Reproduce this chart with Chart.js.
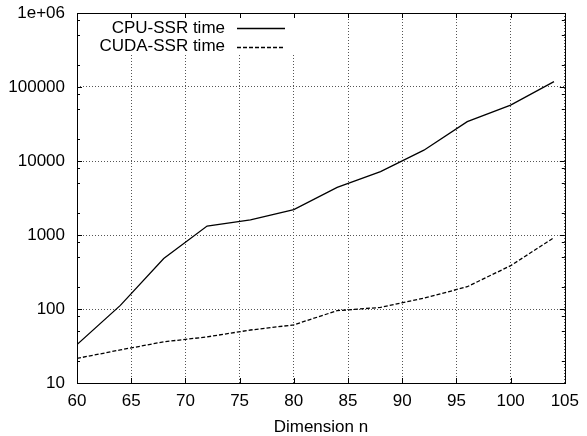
<!DOCTYPE html>
<html>
<head>
<meta charset="utf-8">
<script src="https://cdn.jsdelivr.net/npm/chart.js@4/dist/chart.umd.min.js"></script>
<style>
  body { margin: 0; background: #fff; }
  canvas { display: block; }
</style>
</head>
<body>
<canvas id="timeChart" width="587" height="436"></canvas>
<script>
// Data (run time vs dimension)
const dimensions = [60, 64, 68, 72, 76, 80, 84, 88, 92, 96, 100, 104];
const cpuTimes = [33, 112, 480, 1320, 1600, 2200, 4400, 7200, 14000, 34000, 57000, 118000];
const cudaTimes = [21.5, 28, 36, 42, 52, 61, 95, 105, 140, 200, 385, 920];
const seriesNames = ["CPU-SSR time", "CUDA-SSR time"];

// Ticks
const xTicks = [60, 65, 70, 75, 80, 85, 90, 95, 100, 105];
const yTicks = [10, 100, 1000, 10000, 100000, 1000000];
const yTickLabels = ["10", "100", "1000", "10000", "100000", "1e+06"];
const yMinorSteps = [2, 5, 8];

const font = { family: "'Liberation Sans', Arial, sans-serif", size: 17 };

function toPoints(values) {
  return dimensions.map((d, i) => ({ x: d, y: values[i] }));
}

// gnuplot look: legend inside the plot, inward ticks on all sides, solid frame
const gnuplotFrame = {
  id: "gnuplotFrame",
  afterDatasetsDraw(chart) {
    const { ctx, chartArea: a, scales: { x, y } } = chart;
    ctx.save();

    // legend (white box hides the grid behind it)
    ctx.fillStyle = "#fff";
    ctx.fillRect(a.left + 10, a.top + 1, 210, 39);
    ctx.font = "17px 'Liberation Sans', Arial, sans-serif";
    ctx.textAlign = "right";
    ctx.textBaseline = "middle";
    chart.data.datasets.forEach((ds, i) => {
      const ty = a.top + 15 + i * 18.5;
      ctx.fillStyle = "#000";
      ctx.fillText(ds.label, a.left + 148, ty);
      ctx.strokeStyle = ds.borderColor;
      ctx.lineWidth = ds.borderWidth;
      ctx.setLineDash(ds.borderDash || []);
      ctx.beginPath();
      ctx.moveTo(a.left + 160, Math.round(ty) + 0.5);
      ctx.lineTo(a.left + 208, Math.round(ty) + 0.5);
      ctx.stroke();
    });
    ctx.setLineDash([]);

    // tick marks
    ctx.strokeStyle = "#000";
    ctx.lineWidth = 1;
    ctx.beginPath();
    x.ticks.forEach(t => {
      const px = Math.round(x.getPixelForValue(t.value)) + 0.5;
      ctx.moveTo(px, a.bottom); ctx.lineTo(px, a.bottom - 5);
      ctx.moveTo(px, a.top); ctx.lineTo(px, a.top + 5);
    });
    y.ticks.forEach(t => {
      const py = Math.round(y.getPixelForValue(t.value)) + 0.5;
      const len = t.major ? 5 : 3;
      ctx.moveTo(a.left, py); ctx.lineTo(a.left + len, py);
      ctx.moveTo(a.right, py); ctx.lineTo(a.right - len, py);
    });
    ctx.stroke();

    // frame
    ctx.strokeRect(Math.round(a.left) + 0.5, Math.round(a.top) + 0.5,
      Math.round(a.right - a.left), Math.round(a.bottom - a.top));
    ctx.restore();
  }
};

new Chart(document.getElementById("timeChart"), {
  type: "line",
  data: {
    datasets: [
      {
        label: seriesNames[0],
        data: toPoints(cpuTimes),
        borderColor: "#000",
        borderWidth: 1.3,
        pointRadius: 0,
        tension: 0
      },
      {
        label: seriesNames[1],
        data: toPoints(cudaTimes),
        borderColor: "#000",
        borderWidth: 1.3,
        borderDash: [4, 2],
        pointRadius: 0,
        tension: 0
      }
    ]
  },
  options: {
    responsive: false,
    animation: false,
    devicePixelRatio: 1,
    layout: { padding: { left: 0, right: 20, top: 13, bottom: 0 } },
    plugins: {
      legend: { display: false },
      tooltip: { enabled: false }
    },
    scales: {
      x: {
        type: "linear",
        min: 60,
        max: 105,
        afterBuildTicks: scale => { scale.ticks = xTicks.map(v => ({ value: v })); },
        afterFit: scale => { scale.height = 53; },
        ticks: { autoSkip: false, maxRotation: 0, padding: 8, color: "#000", font: font,
          callback: v => String(v) },
        grid: { drawTicks: false, color: "#555", lineWidth: 1 },
        border: { display: false, dash: [1, 2] },
        title: { display: true, text: "Dimension n", color: "#000",
          font: { ...font, lineHeight: 1 }, padding: 0 }
      },
      y: {
        type: "logarithmic",
        min: 10,
        max: 1000000,
        afterBuildTicks: scale => {
          const ticks = [];
          yTicks.forEach((v, i) => {
            ticks.push({ value: v, major: true });
            if (i < yTicks.length - 1) {
              yMinorSteps.forEach(m => ticks.push({ value: v * m, major: false }));
            }
          });
          scale.ticks = ticks;
        },
        afterFit: scale => {
          scale.width = 77;
          scale.paddingTop = 0;
          scale.paddingBottom = 0;
        },
        ticks: {
          autoSkip: false, padding: 12, color: "#000", font: font,
          callback: v => {
            const i = yTicks.indexOf(v);
            return i >= 0 ? yTickLabels[i] : "";
          }
        },
        grid: {
          drawTicks: false,
          lineWidth: 1,
          color: c => (c.tick && c.tick.major ? "#555" : "rgba(0,0,0,0)")
        },
        border: { display: false, dash: [1, 2] }
      }
    }
  },
  plugins: [gnuplotFrame]
});
</script>
</body>
</html>
